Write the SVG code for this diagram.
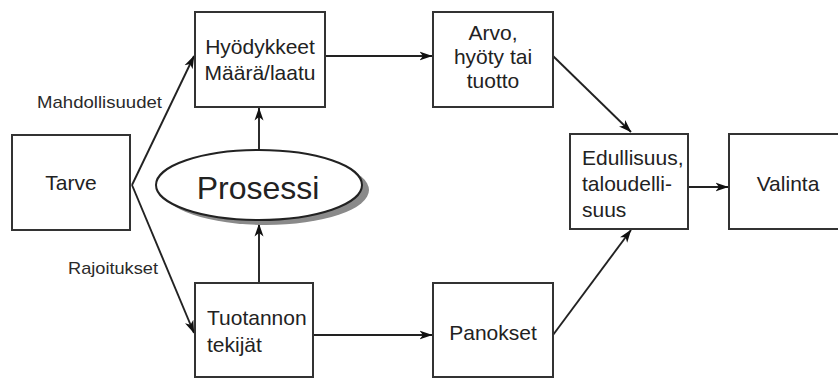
<svg xmlns="http://www.w3.org/2000/svg" width="838" height="379" viewBox="0 0 838 379">
  <style>
    .box { fill: #ffffff; stroke: #333333; stroke-width: 2; }
    .lbl { font-family: "Liberation Sans", Arial, sans-serif; font-size: 21px; fill: #222222; }
    .mid { text-anchor: middle; }
    .edge-lbl { font-family: "Liberation Sans", Arial, sans-serif; font-size: 17px; fill: #2a2a2a; }
    .conn { fill: none; stroke: #222222; stroke-width: 1.9; marker-end: url(#arrow); }
  </style>
  <defs>
    <marker id="arrow" viewBox="0 0 13 10" refX="12.5" refY="5" markerWidth="13" markerHeight="10" markerUnits="userSpaceOnUse" orient="auto">
      <path d="M0,0.5 L13,5 L0,9.5 L3.5,5 Z" fill="#111111"/>
    </marker>
  </defs>

  <rect width="838" height="379" fill="#ffffff"/>

  <!-- connectors -->
  <g id="connectors">
    <line class="conn" x1="132" y1="185" x2="194" y2="56"/>
    <line class="conn" x1="132" y1="185" x2="194" y2="333"/>
    <line class="conn" x1="259" y1="150" x2="259" y2="108"/>
    <line class="conn" x1="259" y1="283" x2="259" y2="224"/>
    <line class="conn" x1="325" y1="56" x2="432" y2="56"/>
    <line class="conn" x1="553" y1="56" x2="631" y2="132"/>
    <line class="conn" x1="553" y1="335" x2="631" y2="230"/>
    <line class="conn" x1="313" y1="335" x2="432" y2="335"/>
    <line class="conn" x1="688" y1="187" x2="728" y2="187"/>
    <text class="edge-lbl" x="37" y="108" textLength="125" lengthAdjust="spacingAndGlyphs">Mahdollisuudet</text>
    <text class="edge-lbl" x="68" y="274" textLength="90" lengthAdjust="spacingAndGlyphs">Rajoitukset</text>
  </g>

  <!-- nodes -->
  <g id="tarve">
    <rect class="box" x="12" y="135" width="118" height="95"/>
    <text class="lbl mid" x="71" y="190">Tarve</text>
  </g>

  <g id="hyodykkeet">
    <rect class="box" x="195" y="12" width="130" height="95"/>
    <text class="lbl mid" x="260" y="54">Hyödykkeet</text>
    <text class="lbl mid" x="260" y="80">Määrä/laatu</text>
  </g>

  <g id="prosessi">
    <ellipse cx="266" cy="190" rx="103" ry="35" fill="#8a8a8a"/>
    <ellipse cx="259" cy="185" rx="103" ry="35" fill="#ffffff" stroke="#222222" stroke-width="2"/>
    <text class="lbl mid" x="258" y="199" style="font-size:32px">Prosessi</text>
  </g>

  <g id="tuotannon-tekijat">
    <rect class="box" x="195" y="283" width="118" height="94"/>
    <text class="lbl" x="207" y="325">Tuotannon</text>
    <text class="lbl" x="207" y="352">tekijät</text>
  </g>

  <g id="arvo">
    <rect class="box" x="433" y="12" width="120" height="95"/>
    <text class="lbl mid" x="493" y="40">Arvo,</text>
    <text class="lbl mid" x="493" y="64">hyöty tai</text>
    <text class="lbl mid" x="493" y="88">tuotto</text>
  </g>

  <g id="panokset">
    <rect class="box" x="433" y="283" width="120" height="94"/>
    <text class="lbl mid" x="493" y="340">Panokset</text>
  </g>

  <g id="edullisuus">
    <rect class="box" x="570" y="134" width="118" height="95"/>
    <text class="lbl" x="582" y="165">Edullisuus,</text>
    <text class="lbl" x="582" y="191">taloudelli-</text>
    <text class="lbl" x="582" y="217">suus</text>
  </g>

  <g id="valinta">
    <rect class="box" x="729" y="134" width="118" height="95"/>
    <text class="lbl mid" x="788" y="191">Valinta</text>
  </g>
</svg>
